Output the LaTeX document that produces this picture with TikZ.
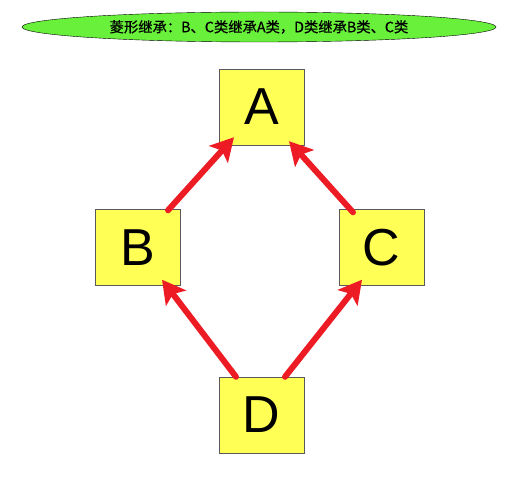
\documentclass[tikz,border=0pt]{standalone}
\usepackage{fontspec}
\setmainfont{Liberation Sans}
\newfontfamily\cjkfont[FakeBold=0.6]{Noto Sans CJK SC}
\usetikzlibrary{arrows.meta,shapes.geometric}
\definecolor{boxyellow}{RGB}{255,255,85}
\definecolor{titlegreen}{RGB}{104,240,58}
\definecolor{arrowred}{RGB}{237,28,36}

\begin{document}
\begin{tikzpicture}[x=1pt,y=-1pt,
    cls/.style={draw=black!65,fill=boxyellow,minimum width=85pt,minimum height=76pt,
                inner sep=0pt,font=\fontsize{52}{52}\selectfont},
    inherit/.style={arrowred,line width=6pt,line cap=round,
                    -{Stealth[length=23pt,width=25pt,inset=5pt]}}]
				\useasboundingbox (0,0) rectangle (529,478);
				\node[ellipse,draw,fill=titlegreen,minimum width=474pt,minimum height=30pt,inner sep=0pt,
				      font=\cjkfont\fontsize{14.3}{15}\selectfont] (title) at (259,27)
				     {菱形继承：B、C类继承A类，D类继承B类、C类};
				\node[cls] (A) at (261.5,107) {A};
				\node[cls] (B) at (138,247.5) {B};
				\node[cls] (C) at (381.5,247.5) {C};
				\node[cls] (D) at (261.5,415) {D};
				% B, C -> A
				\draw[inherit] ([xshift=30pt,yshift=-1pt]B.north) -- ([xshift=-27.5pt,yshift=8pt]A.south);
				\draw[inherit] ([xshift=-28.5pt,yshift=-3pt]C.north) -- ([xshift=27.5pt,yshift=4pt]A.south);
				% D -> B, C
				\draw[inherit] ([xshift=-25.5pt]D.north) -- ([xshift=24pt,yshift=6pt]B.south);
				\draw[inherit] ([xshift=23.5pt]D.north) -- ([xshift=-19.5pt,yshift=6pt]C.south);
			\end{tikzpicture}
\end{document}
